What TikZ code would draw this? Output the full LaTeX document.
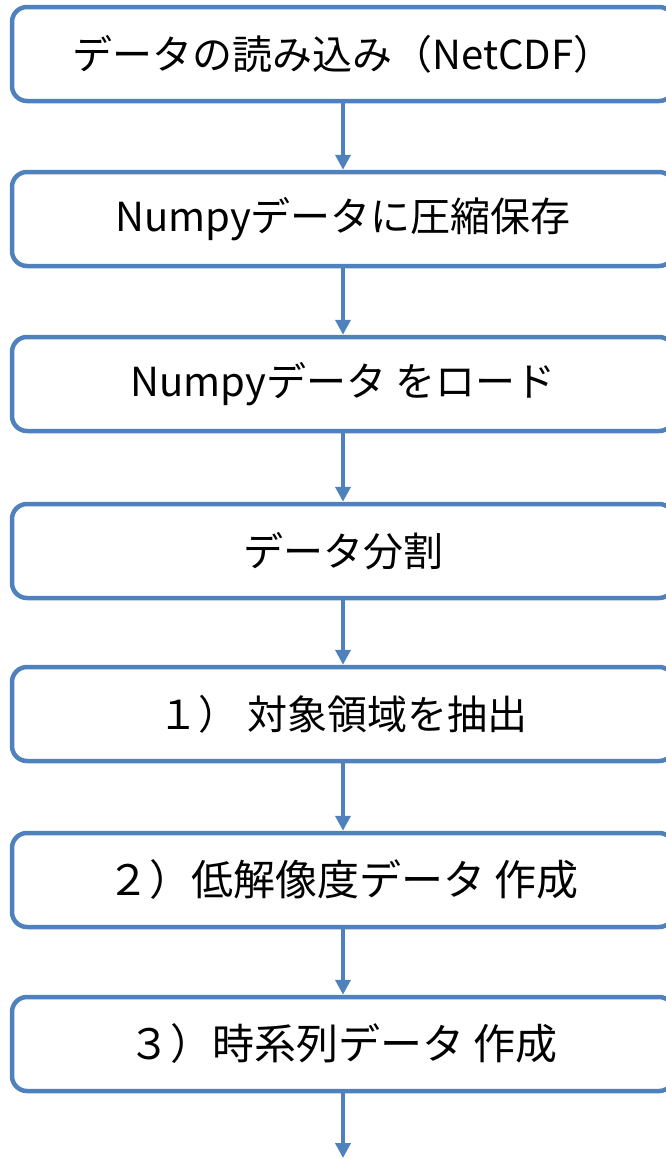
\documentclass[tikz,border=0pt]{standalone}
\usepackage{fontspec}
\setmainfont{Noto Sans CJK JP}
\usetikzlibrary{arrows.meta}
\definecolor{officeblue}{HTML}{4F81BD}
\tikzset{
  stepbox/.style={draw=officeblue, line width=4.5pt, rounded corners=15pt, fill=white,
    minimum width=662pt, minimum height=94pt, inner sep=0pt, font=\fontsize{40}{46}\selectfont, text=black},
  bigtext/.style={font=\fontsize{42}{48}\selectfont},
  flow/.style={draw=officeblue, line width=4.5pt, -{Triangle[width=15pt,length=15pt]}}
}
\begin{document}
\begin{tikzpicture}[x=1pt,y=-1pt]
\useasboundingbox (0,0) rectangle (666,1159);
\begin{scope}
\clip (0,0) rectangle (666,1159);
\node[stepbox] (b1) at (343,54) {データの読み込み（NetCDF）};
\node[stepbox] (b2) at (343,219) {Numpyデータに圧縮保存};
\node[stepbox] (b3) at (343,384) {Numpyデータ をロード};
\node[stepbox] (b4) at (343,551) {データ分割};
\node[stepbox] (b5) at (343,714) {１） 対象領域を抽出};
\node[stepbox, bigtext] (b6) at (343,880) {２）低解像度データ 作成};
\node[stepbox, bigtext] (b7) at (343,1044) {３）時系列データ 作成};
\coordinate (end) at (343,1158);
\draw[flow] (b1.south) -- (b2.north);
\draw[flow] (b2.south) -- (b3.north);
\draw[flow] (b3.south) -- (b4.north);
\draw[flow] (b4.south) -- (b5.north);
\draw[flow] (b5.south) -- (b6.north);
\draw[flow] (b6.south) -- (b7.north);
\draw[flow] (b7.south) -- (end);
\end{scope}
\end{tikzpicture}
\end{document}
